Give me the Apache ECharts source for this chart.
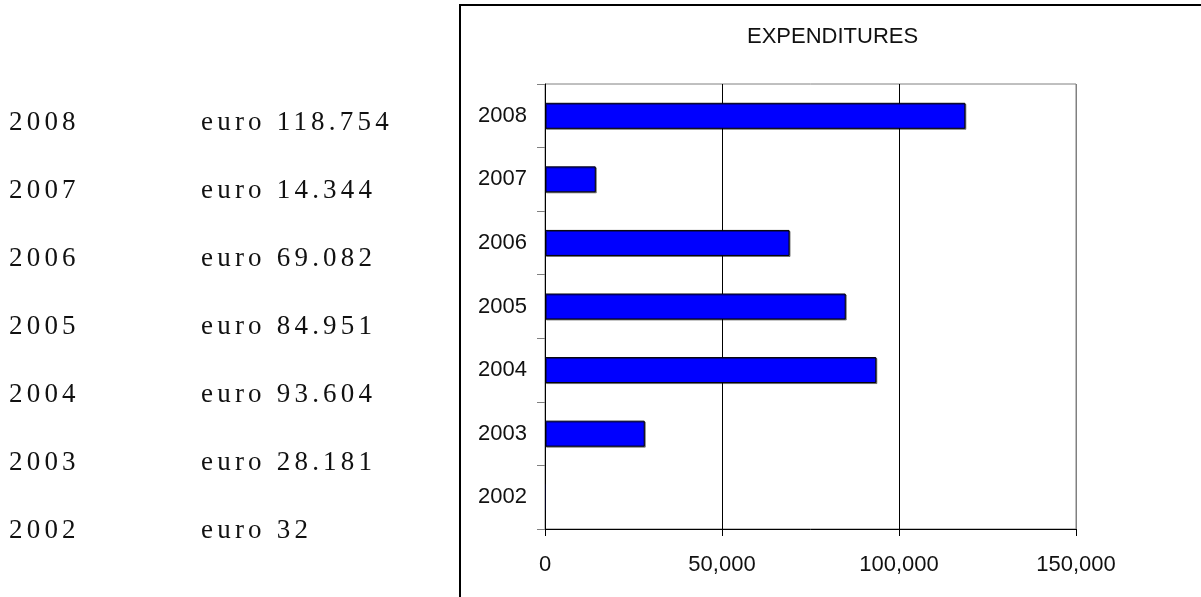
<!DOCTYPE html>
<html>
<head>
<meta charset="utf-8">
<script src="https://cdn.jsdelivr.net/npm/echarts@6.0.0/dist/echarts.min.js"></script>
<style>
  html, body { margin: 0; padding: 0; background: #fff; }
  #chart { position: absolute; left: 0; top: 0; width: 1201px; height: 597px; }
  .row {
    position: absolute;
    font-family: "Liberation Serif", "DejaVu Serif", serif;
    font-size: 27px;
    line-height: 30px;
    letter-spacing: 4.2px;
    color: #111;
    white-space: nowrap;
  }
</style>
</head>
<body>
<div id="chart"></div>
<div id="list"></div>
<script>
// data
const years = ['2008', '2007', '2006', '2005', '2004', '2003', '2002'];
const expenditures = [118754, 14344, 69082, 84951, 93604, 28181, 32];
const xMin = 0;
const xMax = 150000;
const xStep = 50000;

// left-hand list: "euro 118.754" style (dot as thousands separator)
function dotted(n) {
    return String(n).replace(/\B(?=(\d{3})+(?!\d))/g, '.');
}
function commas(n) {
    return String(n).replace(/\B(?=(\d{3})+(?!\d))/g, ',');
}
let list = document.getElementById('list');
years.forEach(function (y, i) {
    let top = 106 + i * 68;
    let a = document.createElement('div');
    a.className = 'row';
    a.style.left = '9px';
    a.style.top = top + 'px';
    a.textContent = y;
    list.appendChild(a);
    let b = document.createElement('div');
    b.className = 'row';
    b.style.left = '201px';
    b.style.top = top + 'px';
    b.textContent = 'euro ' + dotted(expenditures[i]);
    list.appendChild(b);
});

// bars thinner than a pixel get no outline (as in the original, 2002 shows nothing)
let barData = expenditures.map(function (v) {
    return v < xMax / 1000 ? { value: v, itemStyle: { borderWidth: 0, shadowColor: 'transparent' } } : v;
});

let myChart = echarts.init(document.getElementById('chart'));
myChart.setOption({
    animation: false,
    textStyle: {
        fontFamily: 'Liberation Sans, Arial, sans-serif',
    },
    graphic: [{
        type: 'rect',
        shape: { x: 460, y: 5, width: 800, height: 700 },
        style: { fill: 'none', stroke: '#000', lineWidth: 2 },
        silent: true,
    }],
    title: {
        text: 'EXPENDITURES',
        left: 747,
        top: 26,
        padding: 0,
        textStyle: {
            fontSize: 22,
            color: '#111',
            fontWeight: 'normal',
            fontFamily: 'Liberation Sans, Arial, sans-serif',
        },
    },
    grid: {
        left: 545,
        top: 84,
        right: 125,
        bottom: 68,
        show: true,
        borderColor: '#808080',
        borderWidth: 1,
        containLabel: false,
    },
    xAxis: {
        type: 'value',
        min: xMin,
        max: xMax,
        interval: xStep,
        axisLine: { show: true, lineStyle: { color: '#000', width: 1 } },
        axisTick: { show: true, inside: false, length: 7, lineStyle: { color: '#000' } },
        axisLabel: {
            margin: 25,
            fontSize: 22,
            color: '#111',
            formatter: function (v) { return commas(v); },
        },
        splitLine: {
            show: true,
            lineStyle: { color: ['#000', '#000', '#000', '#808080'], width: 1 },
        },
    },
    yAxis: {
        type: 'category',
        inverse: true,
        data: years,
        axisLine: { show: true, lineStyle: { color: '#000', width: 1 } },
        axisTick: { show: true, inside: false, length: 8, lineStyle: { color: '#808080' } },
        axisLabel: {
            margin: 18,
            fontSize: 22,
            color: '#111',
        },
        splitLine: { show: false },
    },
    series: [{
        name: 'EXPENDITURES',
        type: 'bar',
        data: barData,
        barWidth: 26,
        itemStyle: {
            color: '#0000ff',
            borderColor: '#000',
            borderWidth: 1,
            shadowColor: 'rgba(0,0,0,0.45)',
            shadowOffsetX: 1,
            shadowOffsetY: 1,
            shadowBlur: 0,
        },
    }],
});
</script>
</body>
</html>
